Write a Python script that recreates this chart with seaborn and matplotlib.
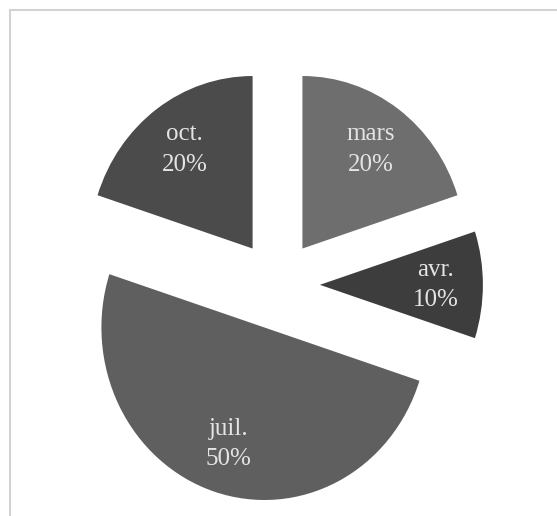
import matplotlib
matplotlib.use("Agg")
import matplotlib.pyplot as plt
import seaborn as sns
from matplotlib.lines import Line2D

sns.set_theme(style="white")
plt.rcParams['font.family'] = ['Liberation Serif', 'DejaVu Serif']

months = ["mars", "avr.", "juil.", "oct."]
shares = [20, 10, 50, 20]
colors = ["#6e6e6e", "#3d3d3d", "#5f5f5f", "#4b4b4b"]
explode = [0.26, 0.26, 0.26, 0.26]

fig = plt.figure(figsize=(5.57, 5.16), dpi=100)
fig.patch.set_facecolor("white")
ax = fig.add_axes([0, 0, 1, 1])

names = iter(months)
def fmt(p):
    return f"{next(names)}\n{p:.0f}%"

wedges, texts, autotexts = ax.pie(
    shares, colors=colors, explode=explode, startangle=90, counterclock=False,
    autopct=fmt, pctdistance=0.71,
    textprops=dict(color="#e4e4e4", fontsize=18, linespacing=1.5),
    wedgeprops=dict(linewidth=0),
)
ax.set_aspect("auto")
ax.set_xlim(-1.7025, 1.7147)
ax.set_ylim(-1.34, 1.651)
ax.axis("off")

# outer frame (top and left visible)
fig.add_artist(Line2D([9.5 / 557, 9.5 / 557], [0, 1 - 9.5 / 516], transform=fig.transFigure,
                      color="#d2d2d2", lw=1.5))
fig.add_artist(Line2D([9.5 / 557, 1], [1 - 9.5 / 516, 1 - 9.5 / 516], transform=fig.transFigure,
                      color="#d2d2d2", lw=1.5))

fig.savefig("out.png", dpi=100, facecolor="white")
